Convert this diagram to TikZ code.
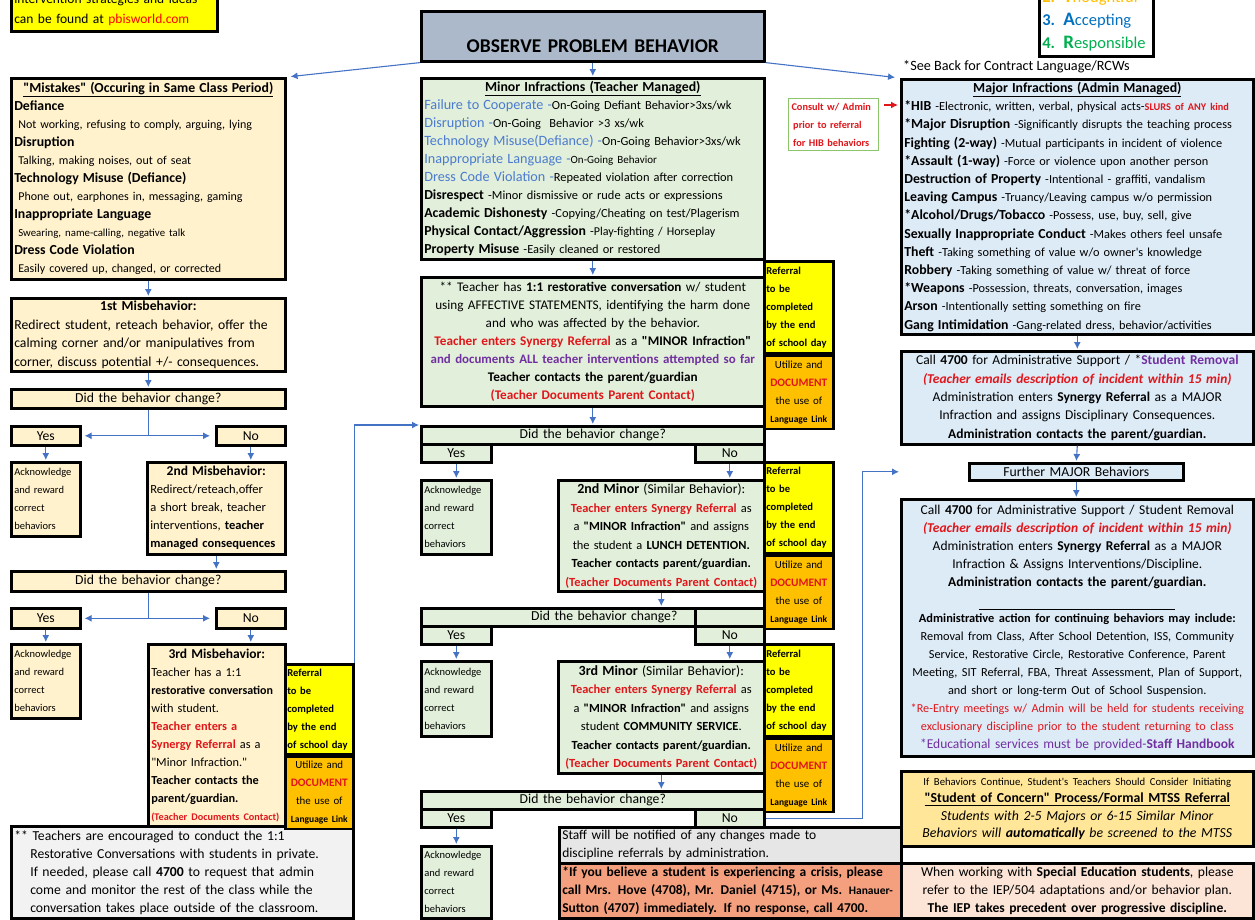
\documentclass[tikz,border=0pt]{standalone}
\usepackage{fontspec}
\setmainfont{Carlito}[Ligatures=TeXOff]
\usepackage{tikz}
\usetikzlibrary{arrows.meta, positioning, calc}

\definecolor{mistfill}{HTML}{FFF2CC}
\definecolor{minorfill}{HTML}{E2EFDA}
\definecolor{majorfill}{HTML}{DDEBF7}
\definecolor{obsfill}{HTML}{ACB9CA}
\definecolor{reffill}{HTML}{FFFF00}
\definecolor{docfill}{HTML}{FFC000}
\definecolor{notefill}{HTML}{F2F2F2}
\definecolor{stafffill}{HTML}{E7E6E6}
\definecolor{crisisfill}{HTML}{F4A07E}
\definecolor{spedfill}{HTML}{FCE4D6}
\definecolor{concernfill}{HTML}{FFE699}
\definecolor{flow}{HTML}{4472C4}
\definecolor{alert}{HTML}{E0161B}
\definecolor{infra}{HTML}{4A7BD0}
\definecolor{purp}{HTML}{7030A0}
\definecolor{acc}{HTML}{0070C0}
\definecolor{resp}{HTML}{00B050}
\definecolor{thought}{HTML}{FFC000}
\definecolor{consultline}{HTML}{8DC56B}

\newcommand\fsz[2]{\fontsize{#1}{#2}\selectfont}
\newcommand\hd[1]{{\fsz{13.8}{18}\bfseries #1}}
\newcommand\bl[1]{{\fsz{14.2}{18}\textcolor{infra}{#1}}}
\newcommand\rd[1]{\textcolor{alert}{\bfseries #1}}

\begin{document}
\begin{tikzpicture}[x=1pt, y=-1pt, >={Latex[length=7pt,width=7pt]},
    box/.style={draw, line width=2.6pt, anchor=north west, inner sep=0pt,
      inner xsep=3pt, font=\fsz{12.4}{18}},
    sz/.style 2 args={text width=#1pt, minimum height=#2pt},
    flowline/.style={flow, line width=1.1pt},
    flowarr/.style={flowline, ->, shorten >=1pt}]
\useasboundingbox (0,0) rectangle (1255,919);

% header
\node[box, fill=reffill, sz={200}{44}, anchor=south west, align=left, font=\fsz{13.5}{19.5}] (tip) at (10,33)
  {intervention strategies and ideas\\ can be found at \textcolor{red}{pbisworld.com}};
\node[box, fill=white, sz={108}{72}, anchor=south west, align=left, font=\fsz{16.5}{23}] (values) at (1038,58)
  {\textcolor{thought}{\textbf{2.}\enspace{\fsz{19}{23}\bfseries T}houghtful}\\
   \textcolor{acc}{\textbf{3.}\enspace{\fsz{19}{23}\bfseries A}ccepting}\\
   \textcolor{resp}{\textbf{4.}\enspace{\fsz{19}{23}\bfseries R}esponsible}};
\node[box, fill=obsfill, sz={337}{50}, align=center, font=\fsz{19.5}{22}\bfseries] (obs) at (420,10)
  {\rule{0pt}{32pt}OBSERVE PROBLEM BEHAVIOR};

% infraction lists
\node[box, fill=mistfill, sz={268}{201}, align=left, font=\fsz{12}{18}] (mist) at (10,77) {%
  \makebox[\hsize]{\hd{\underline{"Mistakes" (Occuring in Same Class Period)}}}\\
  \hd{Defiance}\\
  \hspace*{4pt}Not working, refusing to comply, arguing, lying\\
  \hd{Disruption}\\
  \hspace*{4pt}Talking, making noises, out of seat\\
  \hd{Technology Misuse (Defiance)}\\
  \hspace*{4pt}Phone out, earphones in, messaging, gaming\\
  \hd{Inappropriate Language}\\
  \hspace*{4pt}{\fsz{10.8}{18}Swearing, name-calling, negative talk}\\
  \hd{Dress Code Violation}\\
  \hspace*{4pt}Easily covered up, changed, or corrected};
\node[box, fill=minorfill, sz={337}{181}, align=left, font=\fsz{12.4}{18}] (minor) at (420,77) {%
  \makebox[\hsize]{\hd{\underline{Minor Infractions (Teacher Managed)}}}\\
  \bl{Failure to Cooperate -}On-Going Defiant Behavior>3xs/wk\\
  \bl{Disruption -}On-Going\ \ Behavior >3 xs/wk\\
  \bl{Technology Misuse(Defiance) -}On-Going Behavior>3xs/wk\\
  \bl{Inappropriate Language -}{\fsz{11}{18}On-Going Behavior}\\
  \bl{Dress Code Violation -}Repeated violation after correction\\
  \hd{Disrespect} -Minor dismissive or rude acts or expressions\\
  \hd{Academic Dishonesty} -Copying/Cheating on test/Plagerism\\
  \hd{Physical Contact/Aggression} -{\fsz{12}{18}Play-fighting / Horseplay}\\
  \hd{Property Misuse} -Easily cleaned or restored};
\node[box, draw=consultline, line width=1pt, fill=white, sz={84}{52}, align=left,
  font=\fsz{10.3}{18}\bfseries, text=alert] (consult) at (788,98)
  {Consult w/ Admin\\ \,prior to referral\\ \,for HIB behaviors};
\node[anchor=west, inner sep=0pt, font=\fsz{14.2}{16}] (seeback) at (903,67) {*See Back for Contract Language/RCWs};
\node[box, fill=majorfill, sz={346}{255}, align=left, font=\fsz{12.3}{18.2}] (major) at (900,78) {%
  \makebox[\hsize]{\hd{\underline{Major Infractions (Admin Managed)}}}\\
  \hd{*HIB} -Electronic, written, verbal, physical acts-{\fsz{10.3}{18}\rd{SLURS of ANY kind}}\\
  \hd{*Major Disruption} -Significantly disrupts the teaching process\\
  \hd{Fighting (2-way)} -Mutual participants in incident of violence\\
  \hd{*Assault (1-way)} -Force or violence upon another person\\
  \hd{Destruction of Property} -Intentional - graffiti, vandalism\\
  \hd{Leaving Campus} -Truancy/Leaving campus w/o permission\\
  \hd{*Alcohol/Drugs/Tobacco} -Possess, use, buy, sell, give\\
  \hd{Sexually Inappropriate Conduct} -Makes others feel unsafe\\
  \hd{Theft} -Taking something of value w/o owner's knowledge\\
  \hd{Robbery} -Taking something of value w/ threat of force\\
  \hd{*Weapons} -Possession, threats, conversation, images\\
  \hd{Arson} -Intentionally setting something on fire\\
  \hd{Gang Intimidation} -Gang-related dress, behavior/activities};

% admin column
\node[box, fill=majorfill, sz={346}{93}, align=center, font=\fsz{13.5}{18.3}] (call1) at (900,350) {%
  Call \textbf{4700} for Administrative Support / *\textcolor{purp}{\textbf{Student Removal}}\\
  \textcolor{alert}{\bfseries\itshape (Teacher emails description of incident within 15 min)}\\
  Administration enters \textbf{Synergy Referral} as a MAJOR\\
  Infraction and assigns Disciplinary Consequences.\\
  \textbf{Administration contacts the parent/guardian.}};
\node[box, fill=majorfill, sz={208}{17}, align=center, font=\fsz{13.7}{15}] (further) at (968,462) {Further MAJOR Behaviors};
\node[box, fill=majorfill, sz={346}{257}, align=center, font=\fsz{13.5}{18}] (call2) at (900,498) {%
  Call \textbf{4700} for Administrative Support / Student Removal\\
  \textcolor{alert}{\bfseries\itshape (Teacher emails description of incident within 15 min)}\\
  Administration enters \textbf{Synergy Referral} as a MAJOR\\
  Infraction \& Assigns Interventions/Discipline.\\
  \textbf{Administration contacts the parent/guardian.}\\
  \rule[-5pt]{196pt}{0.6pt}\\
  {\fsz{12.4}{18}\bfseries Administrative action for continuing behaviors may include:}\\
  {\fsz{12.3}{18}Removal from Class, After School Detention, ISS, Community}\\
  {\fsz{12.3}{18}Service, Restorative Circle, Restorative Conference, Parent}\\
  {\fsz{12.3}{18}Meeting, SIT Referral, FBA, Threat Assessment, Plan of Support,}\\
  {\fsz{12.3}{18}and short or long-term Out of School Suspension.}\\
  {\fsz{12.2}{18}\color{alert}*Re-Entry meetings w/ Admin will be held for students receiving}\\
  {\fsz{12.2}{18}\color{alert}exclusionary discipline prior to the student returning to class}\\
  {\fsz{13.5}{18}\color{purp}*Educational services must be provided-\textbf{Staff Handbook}}};
\node[box, fill=concernfill, sz={346}{75}, align=center, font=\fsz{13.8}{17.5}] (concern) at (900,770) {%
  {\fsz{10.7}{17.5}If Behaviors Continue, Student's Teachers Should Consider Initiating}\\
  \textbf{\underline{"Student of Concern" Process/Formal MTSS Referral}}\\
  \textit{Students with 2-5 Majors or 6-15 Similar Minor}\\
  \textit{Behaviors will \textbf{automatically} be screened to the MTSS}};
\node[box, fill=spedfill, sz={346}{55}, align=center, font=\fsz{13.6}{18}] (sped) at (900,862)
  {When working with \textbf{Special Education students}, please\\
   refer to the IEP/504 adaptations and/or behavior plan.\\
   \textbf{The IEP takes precedent over progressive discipline.}};
\node[box, fill=crisisfill, sz={336}{55}, align=left, font=\fsz{13.5}{18}\bfseries] (crisis) at (558,862)
  {*If you believe a student is experiencing a crisis, please\\
   call Mrs. Hove (4708), Mr. Daniel (4715), or Ms. {\fsz{11.5}{18}Hanauer-}\\
   Sutton (4707) immediately. If no response, call 4700.};
\node[box, fill=stafffill, sz={336}{36}, align=left, font=\fsz{13.5}{18}] (staff) at (558,826)
  {Staff will be notified of any changes made to\\ discipline referrals by administration.};

% mistakes column
\node[box, fill=mistfill, sz={268}{73}, align=left, font=\fsz{13.7}{18.5}] (mis1) at (10,297)
  {\makebox[\hsize]{\textbf{1st Misbehavior:}}\\ Redirect student, reteach behavior, offer the\\
   calming corner and/or manipulatives from\\ corner, discuss potential +/- consequences.};
\node[box, fill=mistfill, sz={268}{19}, align=center, font=\fsz{13.7}{15}] (didL1) at (10,388) {Did the behavior change?};
\node[box, fill=mistfill, sz={63}{19}, align=center, font=\fsz{13.7}{15}] (yesL1) at (10,425) {Yes};
\node[box, fill=mistfill, sz={63}{19}, align=center, font=\fsz{13.7}{15}] (noL1) at (215,425) {No};
\node[box, fill=mistfill, sz={132}{92}, align=left, font=\fsz{12.5}{18}] (mis2) at (146,461)
  {\makebox[\hsize]{\fsz{13.5}{18}\bfseries 2nd Misbehavior:}\\ Redirect/reteach,offer\\
   a short break, teacher\\ interventions, \textbf{teacher}\\ \textbf{managed consequences}};
\node[box, fill=mistfill, sz={268}{20}, align=center, font=\fsz{13.7}{15}] (didL2) at (10,570) {Did the behavior change?};
\node[box, fill=mistfill, sz={63}{20}, align=center, font=\fsz{13.7}{15}] (yesL2) at (10,607) {Yes};
\node[box, fill=mistfill, sz={63}{20}, align=center, font=\fsz{13.7}{15}] (noL2) at (215,607) {No};
\node[box, fill=mistfill, sz={131}{182}, align=left, font=\fsz{12.3}{18}] (mis3) at (147,643)
  {\makebox[\hsize]{\fsz{13.5}{18}\bfseries 3rd Misbehavior:}\\ Teacher has a 1:1\\
   {\fsz{12}{18}\bfseries restorative conversation}\\ with student.\\ \rd{Teacher enters a}\\
   \rd{Synergy Referral} as a\\ "Minor Infraction."\\ \textbf{Teacher contacts the}\\
   \textbf{parent/guardian.}\\ {\fsz{10.2}{18}\rd{(Teacher Documents Contact)}}};
\node[box, fill=notefill, sz={336}{92}, align=left, font=\fsz{13.7}{18}] (note) at (10,825)
  {** Teachers are encouraged to conduct the 1:1\\
   \hspace*{16pt}Restorative Conversations with students in private.\\
   \hspace*{16pt}If needed, please call \textbf{4700} to request that admin\\
   \hspace*{16pt}come and monitor the rest of the class while the\\
   \hspace*{16pt}conversation takes place outside of the classroom.};

% minor column
\node[box, fill=minorfill, sz={337}{129}, align=center, font=\fsz{13.2}{18}] (teach) at (420,276)
  {** Teacher has \textbf{1:1 restorative conversation} w/ student\\
   using AFFECTIVE STATEMENTS, identifying the harm done\\
   and who was affected by the behavior.\\
   \rd{Teacher enters Synergy Referral} as a \textbf{"MINOR Infraction"}\\
   {\fsz{12.9}{18}\color{purp}\bfseries and documents ALL teacher interventions attempted so far}\\
   \textbf{Teacher contacts the parent/guardian}\\
   \rd{(Teacher Documents Parent Contact)}};
\node[box, fill=minorfill, sz={337}{18}, align=center, font=\fsz{13.7}{15}] (didM1) at (420,425) {Did the behavior change?};
\node[box, fill=minorfill, sz={64}{18}, align=center, font=\fsz{13.7}{15}] (yesM1) at (420,443) {Yes};
\node[box, fill=minorfill, sz={63}{18}, align=center, font=\fsz{13.7}{15}] (noM1) at (694,443) {No};
\node[box, fill=minorfill, sz={200}{111}, align=center, font=\fsz{12.4}{18.5}] (min2) at (557,479)
  {{\fsz{14}{18}\bfseries 2nd Minor} {\fsz{13.5}{18}(Similar Behavior):}\\ \rd{Teacher enters Synergy Referral} as\\
   a \textbf{"MINOR Infraction"} and assigns\\ the student a \textbf{LUNCH DETENTION.}\\
   \textbf{Teacher contacts parent/guardian.}\\ \rd{(Teacher Documents Parent Contact)}};
\node[box, fill=minorfill, sz={268}{18}, align=center, font=\fsz{13.7}{15}] (didM2) at (420,607) {\hspace*{92pt}Did the behavior change?};
\node[box, fill=minorfill, sz={63}{18}] (blankM2) at (694,607) {};
\node[box, fill=minorfill, sz={64}{18}, align=center, font=\fsz{13.7}{15}] (yesM2) at (420,625) {Yes};
\node[box, fill=minorfill, sz={63}{18}, align=center, font=\fsz{13.7}{15}] (noM2) at (694,625) {No};
\node[box, fill=minorfill, sz={200}{112}, align=center, font=\fsz{12.4}{18.5}] (min3) at (557,660)
  {{\fsz{14}{18}\bfseries 3rd Minor} {\fsz{13.5}{18}(Similar Behavior):}\\ \rd{Teacher enters Synergy Referral} as\\
   a \textbf{"MINOR Infraction"} and assigns\\ student \textbf{COMMUNITY SERVICE}.\\
   \textbf{Teacher contacts parent/guardian.}\\ \rd{(Teacher Documents Parent Contact)}};
\node[box, fill=minorfill, sz={337}{18}, align=center, font=\fsz{13.7}{15}] (didM3) at (420,790) {Did the behavior change?};
\node[box, fill=minorfill, sz={64}{18}, align=center, font=\fsz{13.7}{15}] (yesM3) at (420,808) {Yes};
\node[box, fill=minorfill, sz={63}{18}, align=center, font=\fsz{13.7}{15}] (noM3) at (694,808) {No};

% acknowledge boxes
\foreach \nm/\x/\y/\w/\h/\col in {L1/10/461/63/74/mistfill, L2/10/643/63/74/mistfill,
    M1/420/479/64/74/minorfill, M2/420/660/64/75/minorfill, M3/420/845/64/72/minorfill}
  \node[box, fill=\col, sz={\w}{\h}, align=left, font=\fsz{10.5}{18}] (ack\nm) at (\x,\y)
    {Acknowledge\\ and reward\\ correct\\ behaviors};

% referral / language link boxes
\foreach \nm/\x/\y/\w/\ha/\hb in {L3/284/663/64/90/72, M1/763/260/65/92/73,
    M2/763/461/65/91/73, M3/763/643/65/92/73} {
  \node[box, inner xsep=2pt, fill=reffill, sz={\w}{\ha}, align=left, font=\fsz{10.6}{18}\bfseries] (ref\nm) at (\x,\y)
    {Referral\\ to be\\ completed\\ by the end\\ of school day};
  \node[box, inner xsep=2pt, fill=docfill, sz={\w}{\hb}, align=center, font=\fsz{10.9}{18}] (doc\nm) at (ref\nm.south west)
    {Utilize and\\ {\fsz{11.4}{18}\rd{DOCUMENT}}\\ the use of\\ {\fsz{9.5}{18}\bfseries Language Link}};
}

% connectors
\draw[flowarr] (obs.south) -- (minor.north);
\draw[flowarr, shorten >=4pt] (obs.south west) -- (mist.north east);
\draw[flowarr, shorten >=5pt] (obs.south east) -- (major.north west);
\draw[->, alert, line width=1.6pt, shorten >=2pt]
  ([xshift=5pt,yshift=-7pt]consult.north east) -- ([yshift=-27pt]major.north west);

\draw[flowarr] (mist.south) -- (mis1.north);
\draw[flowarr] (mis1.south) -- (didL1.north);
\coordinate (brL1) at (didL1.south |- yesL1.east);
\draw[flowline] (didL1.south) -- (brL1);
\draw[flowarr, shorten >=3pt] (brL1) -- (yesL1.east);
\draw[flowarr, shorten >=5pt] (brL1) -- (noL1.west);
\draw[flowarr] (yesL1.south) -- (ackL1.north);
\draw[flowarr] (noL1.south) -- (noL1.south |- mis2.north);
\draw[flowarr] (mis2.south) -- (mis2.south |- didL2.north);
\coordinate (brL2) at (didL2.south |- yesL2.east);
\draw[flowline] (didL2.south) -- (brL2);
\draw[flowarr, shorten >=3pt] (brL2) -- (yesL2.east);
\draw[flowarr, shorten >=5pt] (brL2) -- (noL2.west);
\draw[flowarr] (yesL2.south) -- (ackL2.north);
\draw[flowarr] (noL2.south) -- (noL2.south |- mis3.north);
\draw[flowarr] (refL3.north east) |- (didM1.north west);

\draw[flowarr] (minor.south) -- (teach.north);
\draw[flowarr] (teach.south) -- (didM1.north);
\draw[flowarr] (yesM1.south) -- (ackM1.north);
\draw[flowarr] (noM1.south) -- (noM1.south |- min2.north);
\draw[flowarr] (min2.south) -- (min2.south |- didM2.north);
\draw[flowarr] (yesM2.south) -- (ackM2.north);
\draw[flowarr] (noM2.south) -- (noM2.south |- min3.north);
\draw[flowarr] (min3.south) -- (min3.south |- didM3.north);
\draw[flowarr] (yesM3.south) -- (ackM3.north);
\coordinate (furtherIn) at (major.west |- further.west);
\draw[flowarr] (noM3.east) -- ++(97,0) |- (furtherIn);

\draw[flowarr] (major.south) -- (call1.north);
\draw[flowarr] (call1.south) -- (further.north);
\draw[flowarr] (further.south) -- (further.south |- call2.north);
\end{tikzpicture}
\end{document}
